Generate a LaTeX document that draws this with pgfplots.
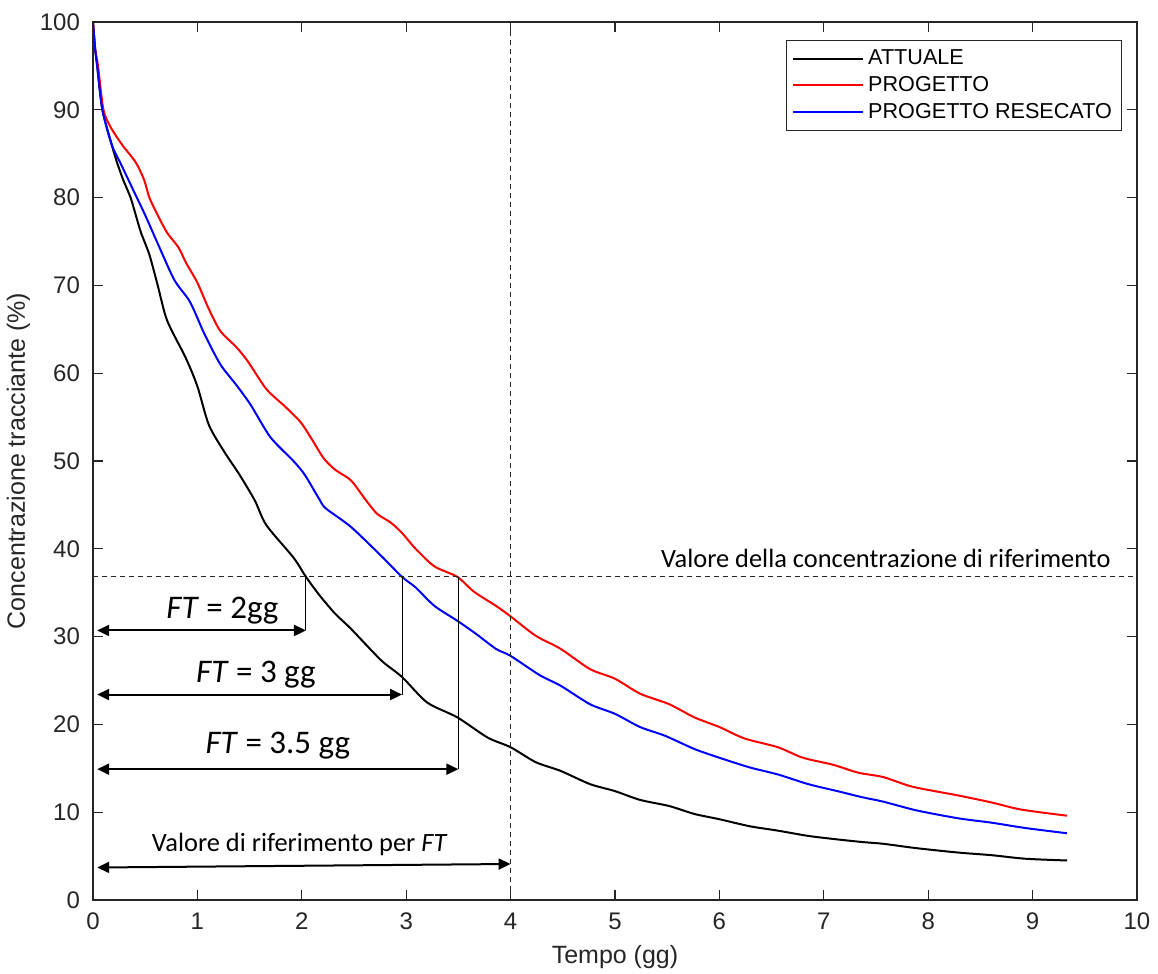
\documentclass[border=0pt]{standalone}
\usepackage{fontspec}
\setmainfont{Liberation Sans}
\newfontfamily\calfont{Carlito}
\usepackage{pgfplots}
\pgfplotsset{compat=1.18}
\usetikzlibrary{arrows.meta}
\definecolor{axgray}{RGB}{38,38,38}
\definecolor{mred}{RGB}{255,0,0}
\definecolor{mblue}{RGB}{0,0,255}
\tikzset{
  ftarr/.style={{Triangle[length=6pt,width=5.5pt]}-{Triangle[length=6pt,width=5.5pt]},line width=1pt,black},
  drop/.style={line width=0.5pt,black},
  ann/.style={font=\calfont\fontsize{16.5}{18}\selectfont,inner sep=0pt},
  curve/.style={line width=1pt,smooth,tension=0.45},
}
\begin{document}
\begin{tikzpicture}
\begin{axis}[
  scale only axis, width=522pt, height=439pt,
  xmin=0, xmax=10, ymin=0, ymax=100,
  xtick={0,1,...,10}, ytick={0,10,...,100},
  tick align=inside, tick pos=both, major tick length=5pt,
  axis line style={axgray, line width=0.6pt},
  every tick/.style={axgray, line width=0.6pt},
  /pgf/number format/assume math mode=true,
  tick label style={font=\fontsize{12}{14}\selectfont, text=axgray},
  xticklabel style={yshift=-3pt},
  yticklabel style={xshift=-3pt},
  label style={font=\fontsize{12.5}{15}\selectfont, text=axgray},
  xlabel={Tempo (gg)}, ylabel={Concentrazione tracciante (\%)},
  xlabel style={yshift=-1pt},
  ylabel style={yshift=-2pt},
  legend style={at={(rel axis cs:0.986,0.979)}, anchor=north east,
    font=\fontsize{10.8}{13}\selectfont, draw=axgray, line width=0.5pt,
    row sep=0.3pt, inner xsep=3pt, inner ysep=2.5pt},
  legend cell align=left,
  legend image code/.code={\draw[#1,line width=1pt] (0pt,0pt) -- (35pt,0pt);},
]
\addplot[black, curve] coordinates {
(0,100)(0.02,97)(0.04,95)(0.09,90)(0.18,86)(0.23,84)(0.29,82)(0.36,80)(0.41,78)
(0.46,76)(0.54,73.5)(0.62,70)(0.71,66.0)(0.89,61.7)(1.0,58.5)(1.11,54.1)
(1.26,51.0)(1.40,48.5)(1.55,45.5)(1.66,42.7)(1.92,39.0)(2.04,36.8)(2.17,34.7)
(2.32,32.6)(2.47,30.9)(2.76,27.3)(2.96,25.4)(3.20,22.5)(3.49,20.8)(3.78,18.5)
(4.0,17.4)(4.24,15.7)(4.48,14.7)(4.76,13.2)(5.0,12.4)(5.24,11.4)(5.52,10.7)
(5.76,9.8)(6.0,9.2)(6.29,8.4)(6.56,7.9)(6.85,7.3)(7.13,6.9)(7.37,6.6)(7.57,6.4)
(7.89,5.9)(8.29,5.4)(8.61,5.1)(8.93,4.7)(9.33,4.5)};
\addlegendentry{ATTUALE}
\addplot[mred, curve] coordinates {
(0,100)(0.02,97)(0.048,95)(0.1,90)(0.17,88)(0.28,86)(0.41,84)(0.49,82)(0.54,80)
(0.62,78)(0.71,76)(0.82,74.3)(0.89,72.6)(1.0,70.3)(1.11,67.3)(1.22,64.8)
(1.37,63)(1.48,61.4)(1.66,58.2)(1.84,56.2)(1.99,54.4)(2.10,52.4)(2.21,50.3)
(2.32,49.0)(2.47,47.8)(2.61,45.6)(2.72,44.0)(2.85,43.0)(2.96,41.8)(3.09,40.0)
(3.27,38.0)(3.49,36.8)(3.65,35.1)(3.86,33.5)(4.0,32.3)(4.24,30.1)(4.48,28.6)
(4.76,26.3)(5.0,25.2)(5.24,23.5)(5.52,22.3)(5.76,20.8)(6.0,19.7)(6.24,18.4)
(6.56,17.4)(6.8,16.2)(7.09,15.4)(7.33,14.5)(7.57,14.0)(7.85,12.9)(8.29,11.9)
(8.61,11.1)(8.89,10.3)(9.33,9.6)};
\addlegendentry{PROGETTO}
\addplot[mblue, curve] coordinates {
(0,100)(0.02,97)(0.04,95)(0.09,90)(0.18,86)(0.26,84)(0.34,82)(0.42,80)(0.50,78)
(0.63,74.5)(0.78,70.6)(0.93,68.1)(1.07,64.4)(1.22,61.0)(1.37,58.7)(1.51,56.4)
(1.70,52.7)(1.92,50.0)(2.03,48.4)(2.17,45.6)(2.23,44.6)(2.47,42.5)(2.76,39.2)
(2.96,36.8)(3.09,35.6)(3.27,33.5)(3.49,31.8)(3.67,30.3)(3.86,28.6)(4.0,27.8)
(4.28,25.6)(4.48,24.4)(4.76,22.3)(5.0,21.2)(5.24,19.7)(5.48,18.7)(5.76,17.2)
(6.0,16.2)(6.29,15.1)(6.56,14.3)(6.85,13.2)(7.13,12.4)(7.37,11.7)(7.57,11.2)
(7.89,10.2)(8.29,9.3)(8.61,8.8)(8.93,8.2)(9.33,7.6)};
\addlegendentry{PROGETTO RESECATO}
% reference lines
\addplot[forget plot, axgray, line width=0.5pt, dash pattern=on 2.5pt off 2pt] coordinates {(0,36.8)(10,36.8)};
\addplot[forget plot, axgray, line width=0.5pt, dash pattern=on 2.5pt off 2pt] coordinates {(4,0)(4,100)};
% drops from the intersections
\draw[drop] (axis cs:2.04,36.8) -- (axis cs:2.04,30.7);
\draw[drop] (axis cs:2.96,36.8) -- (axis cs:2.96,23.4);
\draw[drop] (axis cs:3.50,36.8) -- (axis cs:3.50,14.9);
% arrows
\draw[ftarr] (axis cs:0.04,30.7) -- (axis cs:2.04,30.7);
\draw[ftarr] (axis cs:0.04,23.4) -- (axis cs:2.96,23.4);
\draw[ftarr] (axis cs:0.04,14.9) -- (axis cs:3.50,14.9);
\draw[ftarr] (axis cs:0.04,3.7) -- (axis cs:4.0,4.1);
% texts
\node[ann] at (axis cs:1.24,33.0) {\textit{FT} = 2gg};
\node[ann] at (axis cs:1.56,25.7) {\textit{FT} = 3 gg};
\node[ann] at (axis cs:1.77,17.6) {\textit{FT} = 3.5 gg};
\node[ann,font=\calfont\fontsize{13.2}{15}\selectfont] at (axis cs:1.98,6.3) {Valore di riferimento per \textit{FT}};
\node[ann,font=\calfont\fontsize{13.2}{15}\selectfont,anchor=base east] at (axis cs:9.75,37.9) {Valore della concentrazione di riferimento};
\end{axis}
\pgfresetboundingbox
\path ([shift={(-46.5pt,-37pt)}]current axis.south west) rectangle ([shift={(10.5pt,11pt)}]current axis.north east);
\end{tikzpicture}
\end{document}
